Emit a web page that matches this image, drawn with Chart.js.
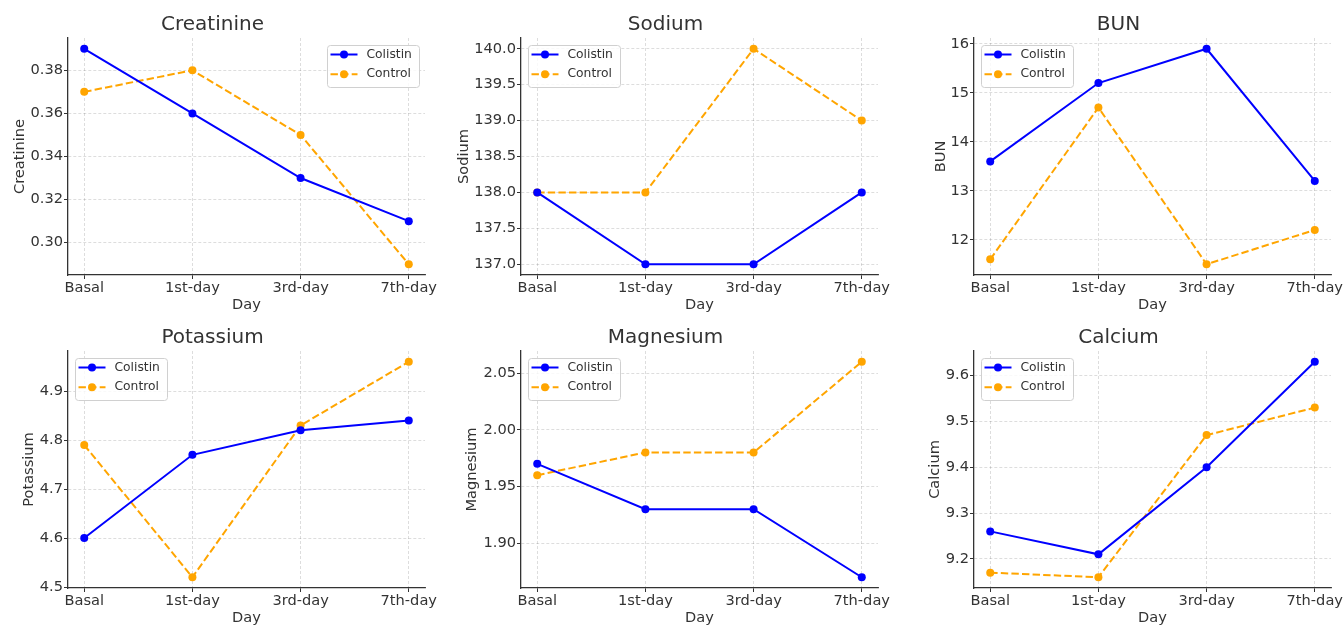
<!DOCTYPE html>
<html>
<head>
<meta charset="utf-8">
<script src="https://cdn.jsdelivr.net/npm/chart.js@4.4.0/dist/chart.umd.min.js"></script>
<style>
  html, body { margin: 0; padding: 0; background: #ffffff; width: 1344px; height: 625px; overflow: hidden; }
  canvas { position: absolute; }
</style>
</head>
<body>
<script>
// ---------- data ----------
const days = ['Basal', '1st-day', '3rd-day', '7th-day'];
const seriesNames = ['Colistin', 'Control'];

const creatinineColistin = [0.39, 0.36, 0.33, 0.31];
const creatinineControl  = [0.37, 0.38, 0.35, 0.29];
const creatinineTicks    = ['0.30', '0.32', '0.34', '0.36', '0.38'];

const sodiumColistin = [138, 137, 137, 138];
const sodiumControl  = [138, 138, 140, 139];
const sodiumTicks    = ['137.0', '137.5', '138.0', '138.5', '139.0', '139.5', '140.0'];

const bunColistin = [13.6, 15.2, 15.9, 13.2];
const bunControl  = [11.6, 14.7, 11.5, 12.2];
const bunTicks    = ['12', '13', '14', '15', '16'];

const potassiumColistin = [4.60, 4.77, 4.82, 4.84];
const potassiumControl  = [4.79, 4.52, 4.83, 4.96];
const potassiumTicks    = ['4.5', '4.6', '4.7', '4.8', '4.9'];

const magnesiumColistin = [1.97, 1.93, 1.93, 1.87];
const magnesiumControl  = [1.96, 1.98, 1.98, 2.06];
const magnesiumTicks    = ['1.90', '1.95', '2.00', '2.05'];

const calciumColistin = [9.26, 9.21, 9.40, 9.63];
const calciumControl  = [9.17, 9.16, 9.47, 9.53];
const calciumTicks    = ['9.2', '9.3', '9.4', '9.5', '9.6'];

// ---------- layout / style ----------
const FONT = '"DejaVu Sans", "Liberation Sans", sans-serif';
const TEXT = '#333333';
const BLUE = '#0000ff';
const ORANGE = '#ffa500';
const AXIS_FONT = 14.6;
const AXIS_W = 68, PLOT_W = 357, RIGHT_PAD = 14;
const TITLE_H = 38, PLOT_H = 237, XAXIS_H = 40;

const panels = [
  { title: 'Creatinine', colistin: creatinineColistin, control: creatinineControl, ticks: creatinineTicks, left: 0,   top: 0,   legend: 'right', yPad: 11.2 },
  { title: 'Sodium',     colistin: sodiumColistin,     control: sodiumControl,     ticks: sodiumTicks,     left: 453, top: 0,   legend: 'left',  yPad: 2.2 },
  { title: 'BUN',        colistin: bunColistin,        control: bunControl,        ticks: bunTicks,        left: 906, top: 0,   legend: 'left',  yPad: 26.2 },
  { title: 'Potassium',  colistin: potassiumColistin,  control: potassiumControl,  ticks: potassiumTicks,  left: 0,   top: 313, legend: 'left',  yPad: 20.2 },
  { title: 'Magnesium',  colistin: magnesiumColistin,  control: magnesiumControl,  ticks: magnesiumTicks,  left: 453, top: 313, legend: 'left',  yPad: 10.2 },
  { title: 'Calcium',    colistin: calciumColistin,    control: calciumControl,    ticks: calciumTicks,    left: 906, top: 313, legend: 'left',  yPad: 20.2 }
];

// legend drawn inside the plot area (matplotlib style)
const insideLegend = {
  id: 'insideLegend',
  afterDatasetsDraw(chart, args, opts) {
    const { ctx, chartArea } = chart;
    const w = 92, h = 42;
    const x = opts.align === 'right' ? chartArea.right - 6.5 - w : chartArea.left + 6.5;
    const y = chartArea.top + 6.5;
    ctx.save();
    ctx.beginPath();
    ctx.roundRect(Math.round(x) + 0.5, Math.round(y) + 0.5, w, h, 3);
    ctx.fillStyle = 'rgba(255,255,255,0.8)';
    ctx.fill();
    ctx.strokeStyle = '#d0d0d0';
    ctx.lineWidth = 1;
    ctx.stroke();
    chart.data.datasets.forEach((ds, i) => {
      const cy = y + 10 + i * 19.7;
      ctx.strokeStyle = ds.borderColor;
      ctx.lineWidth = 2;
      ctx.setLineDash(ds.borderDash || []);
      ctx.beginPath();
      ctx.moveTo(x + 4, cy);
      ctx.lineTo(x + 31, cy);
      ctx.stroke();
      ctx.setLineDash([]);
      ctx.fillStyle = ds.borderColor;
      ctx.beginPath();
      ctx.arc(x + 17.5, cy, 4, 0, Math.PI * 2);
      ctx.fill();
      ctx.fillStyle = TEXT;
      ctx.font = '12.3px ' + FONT;
      ctx.textBaseline = 'middle';
      ctx.textAlign = 'left';
      ctx.fillText(ds.label, x + 40, cy);
    });
    ctx.restore();
  }
};

function gridOpts() {
  return { color: 'rgba(0,0,0,0.17)', lineWidth: 0.8, drawTicks: true, tickLength: 4, tickColor: TEXT, tickWidth: 1, tickBorderDash: [] };
}
function borderOpts() {
  return { display: true, color: TEXT, width: 1.3, dash: [3, 2] };
}

panels.forEach(p => {
  const cv = document.createElement('canvas');
  const W = AXIS_W + PLOT_W + RIGHT_PAD;
  const H = TITLE_H + PLOT_H + XAXIS_H;
  cv.width = W; cv.height = H;
  cv.style.left = p.left + 'px';
  cv.style.top = p.top + 'px';
  cv.style.width = W + 'px';
  cv.style.height = H + 'px';
  document.body.appendChild(cv);

  const all = p.colistin.concat(p.control);
  const lo = Math.min(...all), hi = Math.max(...all);
  const m = (hi - lo) * 0.05;

  new Chart(cv, {
    type: 'line',
    data: {
      datasets: [
        { label: seriesNames[0], data: p.colistin.map((v, i) => ({ x: i, y: v })),
          borderColor: BLUE, backgroundColor: BLUE, pointBackgroundColor: BLUE, pointBorderColor: BLUE,
          borderWidth: 2, pointRadius: 4, pointBorderWidth: 0, tension: 0, fill: false },
        { label: seriesNames[1], data: p.control.map((v, i) => ({ x: i, y: v })),
          borderColor: ORANGE, backgroundColor: ORANGE, pointBackgroundColor: ORANGE, pointBorderColor: ORANGE,
          borderWidth: 2, borderDash: [7.4, 3.2], pointRadius: 4, pointBorderWidth: 0, tension: 0, fill: false }
      ]
    },
    options: {
      responsive: false,
      animation: false,
      devicePixelRatio: 1,
      layout: { padding: { left: 0, right: RIGHT_PAD, top: 0, bottom: 0 } },
      plugins: {
        legend: { display: false },
        tooltip: { enabled: false },
        title: { display: true, text: p.title, color: TEXT,
                 font: { family: FONT, size: 20, weight: 'normal', lineHeight: 1.2 },
                 padding: { top: 13, bottom: 1 } },
        insideLegend: { align: p.legend }
      },
      scales: {
        x: {
          type: 'linear', min: -0.15, max: 3.15,
          afterBuildTicks: s => { s.ticks = days.map((d, i) => ({ value: i })); },
          afterFit: s => { s.height = XAXIS_H; },
          ticks: { callback: (v, i) => days[i], color: TEXT, font: { family: FONT, size: AXIS_FONT },
                   padding: 0, maxRotation: 0, autoSkip: false },
          title: { display: true, text: 'Day', color: TEXT, font: { family: FONT, size: AXIS_FONT, lineHeight: 1.2 },
                   padding: { top: 0, bottom: 1.5 } },
          grid: gridOpts(),
          border: borderOpts()
        },
        y: {
          type: 'linear', min: lo - m, max: hi + m,
          afterBuildTicks: s => { s.ticks = p.ticks.map(t => ({ value: parseFloat(t) })); },
          afterFit: s => { s.width = AXIS_W; },
          ticks: { callback: (v, i) => p.ticks[i], color: TEXT, font: { family: FONT, size: AXIS_FONT }, padding: 1 },
          title: { display: true, text: p.title, color: TEXT, font: { family: FONT, size: AXIS_FONT, lineHeight: 1.2 },
                   padding: { top: p.yPad, bottom: 0 } },
          grid: gridOpts(),
          border: borderOpts()
        }
      }
    },
    plugins: [insideLegend]
  });
});
</script>
</body>
</html>
